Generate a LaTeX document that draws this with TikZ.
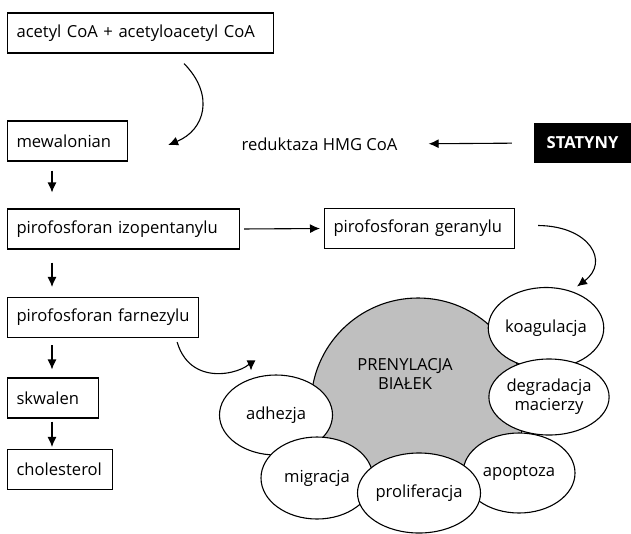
\documentclass[tikz,border=0pt]{standalone}
\usepackage{fontspec}
\setmainfont{Open Sans}
\usetikzlibrary{arrows.meta,shapes.geometric,calc}
\tikzset{
  txtfont/.style={font=\fontsize{16.6}{19}\selectfont},
  box/.style={draw, line width=1.1pt, anchor=west, minimum height=40pt, inner xsep=9pt, align=left, txtfont},
  arr/.style={line width=1.1pt, -{Latex[length=10pt,width=9pt]}},
  oval/.style={draw, line width=1.1pt, fill=white, ellipse, inner sep=0pt, align=center, txtfont},
  plain/.style={inner sep=0pt, align=center, txtfont}
}
\begin{document}
\begin{tikzpicture}[x=1pt,y=-1pt]
\useasboundingbox (0,0) rectangle (631,533);
% boxes
\node[box, text width=248pt] (acetyl) at (7,33) {acetyl CoA + acetyloacetyl CoA};
\node[box, text width=102pt] (mew) at (7,141) {mewalonian};
\node[box, text width=214pt] (izo) at (7,229) {pirofosforan izopentanylu};
\node[box, text width=172pt] (ger) at (324,228.5) {pirofosforan geranylu};
\node[box, text width=173pt] (far) at (7,317.5) {pirofosforan farnezylu};
\node[box, text width=73pt] (skw) at (7,398) {skwalen};
\node[box, text width=87pt] (chol) at (7,469.5) {cholesterol};
\node[fill=black, text=white, minimum width=97pt, minimum height=40pt, inner sep=0pt, font=\fontsize{16.6}{19}\selectfont\bfseries] (stat) at (582.5,143) {STATYNY};
\node[plain] (red) at (319.5,144) {reduktaza HMG CoA};
\coordinate (colx) at (52,0);
% vertical arrows
\draw[arr, shorten <=9pt, shorten >=16pt] (mew.south -| colx) -- (izo.north -| colx);
\draw[arr, shorten <=13pt, shorten >=10pt] (izo.south -| colx) -- (far.north -| colx);
\draw[arr, shorten <=7pt, shorten >=8pt] (far.south -| colx) -- (skw.north -| colx);
\draw[arr, shorten <=3pt, shorten >=2pt] (skw.south -| colx) -- (chol.north -| colx);
% horizontal arrows
\draw[arr, shorten <=4pt, shorten >=4pt] (izo.east) -- (ger.west);
\draw[arr, shorten <=22pt, shorten >=31pt] (stat.west) -- (red.east);
% prenylation cluster
\node[circle, draw, line width=1.1pt, fill=black!25, minimum size=214pt, inner sep=0pt] (pren) at (418,405) {};
\node[plain] (prentxt) at (405,374) {PRENYLACJA\\BIAŁEK};
\node[oval, minimum width=113pt, minimum height=81pt] (koag) at (546,328) {koagulacja};
\node[oval, minimum width=112pt, minimum height=76pt] (degr) at (549,397) {degradacja\\macierzy};
\node[oval, minimum width=112pt, minimum height=80pt] (apop) at (519,473) {apoptoza};
\node[oval, minimum width=113pt, minimum height=80pt] (adh) at (276,415) {adhezja};
\node[oval, minimum width=112pt, minimum height=82pt] (migr) at (317,478) {migracja};
\node[oval, minimum width=112pt, minimum height=80pt] (prol) at (419,493) {proliferacja};
% curved arrows
\draw[arr] ($(acetyl.south west)+(177,10)$) .. controls (215,95) and (205,130) .. ($(mew.east)+(40,4)$);
\draw[arr] ($(ger.east)+(23,-3)$) .. controls (590,226) and (610,262) .. ($(koag.north)+(31,-0.5)$);
\draw[arr] ($(far.south east)+(-22,4)$) .. controls (192,392) and (251,370) .. ($(adh.north)+(-25,-4)$);
\end{tikzpicture}
\end{document}
